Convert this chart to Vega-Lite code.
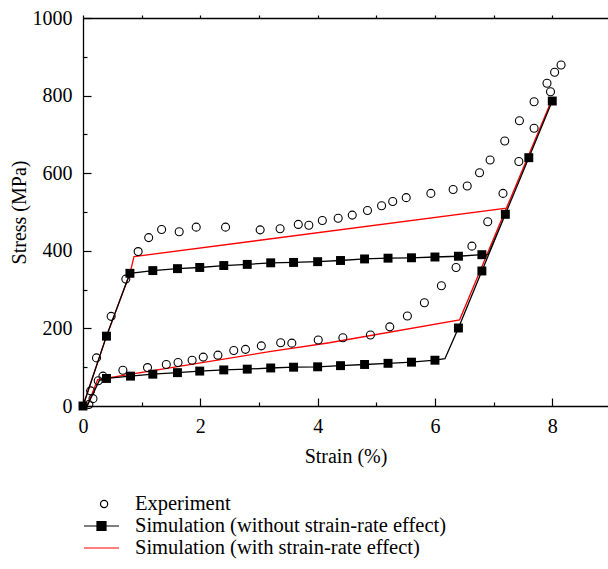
{
  "$schema": "https://vega.github.io/schema/vega-lite/v6.json",
  "width": 525,
  "height": 388,
  "autosize": {"type": "none"},
  "padding": {"left": 83, "top": 18, "right": 0, "bottom": 163},
  "background": "white",
  "config": {
    "view": {"stroke": null},
    "font": "Liberation Serif",
    "style": {
      "guide-label": {"font": "Liberation Serif", "fontWeight": "normal", "fill": "black"},
      "guide-title": {"font": "Liberation Serif", "fontWeight": "normal", "fill": "black"}
    },
    "axis": {
      "labelFont": "Liberation Serif",
      "titleFont": "Liberation Serif",
      "labelFontSize": 20,
      "titleFontSize": 20,
      "titleFontWeight": 400,
      "labelColor": "black",
      "titleColor": "black",
      "domainColor": "black",
      "tickColor": "black",
      "domainWidth": 1.3,
      "tickWidth": 1.2,
      "grid": false
    }
  },
  "datasets": {
    "sim": [
      {"series": "Simulation (without strain-rate effect)", "ord": 1, "strain": 0.0, "stress": 0, "mark": 1},
      {"series": "Simulation (without strain-rate effect)", "ord": 2, "strain": 0.40, "stress": 180, "mark": 1},
      {"series": "Simulation (without strain-rate effect)", "ord": 3, "strain": 0.80, "stress": 342, "mark": 1},
      {"series": "Simulation (without strain-rate effect)", "ord": 4, "strain": 1.19, "stress": 349, "mark": 1},
      {"series": "Simulation (without strain-rate effect)", "ord": 5, "strain": 1.61, "stress": 354, "mark": 1},
      {"series": "Simulation (without strain-rate effect)", "ord": 6, "strain": 1.99, "stress": 357, "mark": 1},
      {"series": "Simulation (without strain-rate effect)", "ord": 7, "strain": 2.40, "stress": 362, "mark": 1},
      {"series": "Simulation (without strain-rate effect)", "ord": 8, "strain": 2.80, "stress": 365, "mark": 1},
      {"series": "Simulation (without strain-rate effect)", "ord": 9, "strain": 3.20, "stress": 369, "mark": 1},
      {"series": "Simulation (without strain-rate effect)", "ord": 10, "strain": 3.59, "stress": 370, "mark": 1},
      {"series": "Simulation (without strain-rate effect)", "ord": 11, "strain": 4.00, "stress": 372, "mark": 1},
      {"series": "Simulation (without strain-rate effect)", "ord": 12, "strain": 4.39, "stress": 375, "mark": 1},
      {"series": "Simulation (without strain-rate effect)", "ord": 13, "strain": 4.80, "stress": 379, "mark": 1},
      {"series": "Simulation (without strain-rate effect)", "ord": 14, "strain": 5.20, "stress": 381, "mark": 1},
      {"series": "Simulation (without strain-rate effect)", "ord": 15, "strain": 5.60, "stress": 382, "mark": 1},
      {"series": "Simulation (without strain-rate effect)", "ord": 16, "strain": 6.00, "stress": 384, "mark": 1},
      {"series": "Simulation (without strain-rate effect)", "ord": 17, "strain": 6.40, "stress": 386, "mark": 1},
      {"series": "Simulation (without strain-rate effect)", "ord": 18, "strain": 6.80, "stress": 390, "mark": 1},
      {"series": "Simulation (without strain-rate effect)", "ord": 19, "strain": 6.91, "stress": 391, "mark": 0},
      {"series": "Simulation (without strain-rate effect)", "ord": 20, "strain": 7.20, "stress": 494, "mark": 1},
      {"series": "Simulation (without strain-rate effect)", "ord": 21, "strain": 7.60, "stress": 640, "mark": 1},
      {"series": "Simulation (without strain-rate effect)", "ord": 22, "strain": 8.00, "stress": 786, "mark": 1},
      {"series": "Simulation (without strain-rate effect)", "ord": 23, "strain": 6.80, "stress": 348, "mark": 1},
      {"series": "Simulation (without strain-rate effect)", "ord": 24, "strain": 6.40, "stress": 201, "mark": 1},
      {"series": "Simulation (without strain-rate effect)", "ord": 25, "strain": 6.17, "stress": 122, "mark": 0},
      {"series": "Simulation (without strain-rate effect)", "ord": 26, "strain": 6.00, "stress": 118, "mark": 1},
      {"series": "Simulation (without strain-rate effect)", "ord": 27, "strain": 5.60, "stress": 113, "mark": 1},
      {"series": "Simulation (without strain-rate effect)", "ord": 28, "strain": 5.20, "stress": 110, "mark": 1},
      {"series": "Simulation (without strain-rate effect)", "ord": 29, "strain": 4.80, "stress": 107, "mark": 1},
      {"series": "Simulation (without strain-rate effect)", "ord": 30, "strain": 4.39, "stress": 104, "mark": 1},
      {"series": "Simulation (without strain-rate effect)", "ord": 31, "strain": 4.00, "stress": 101, "mark": 1},
      {"series": "Simulation (without strain-rate effect)", "ord": 32, "strain": 3.59, "stress": 100, "mark": 1},
      {"series": "Simulation (without strain-rate effect)", "ord": 33, "strain": 3.20, "stress": 98, "mark": 1},
      {"series": "Simulation (without strain-rate effect)", "ord": 34, "strain": 2.80, "stress": 95, "mark": 1},
      {"series": "Simulation (without strain-rate effect)", "ord": 35, "strain": 2.40, "stress": 93, "mark": 1},
      {"series": "Simulation (without strain-rate effect)", "ord": 36, "strain": 1.99, "stress": 90, "mark": 1},
      {"series": "Simulation (without strain-rate effect)", "ord": 37, "strain": 1.61, "stress": 86, "mark": 1},
      {"series": "Simulation (without strain-rate effect)", "ord": 38, "strain": 1.19, "stress": 82, "mark": 1},
      {"series": "Simulation (without strain-rate effect)", "ord": 39, "strain": 0.81, "stress": 77, "mark": 1},
      {"series": "Simulation (without strain-rate effect)", "ord": 40, "strain": 0.40, "stress": 71, "mark": 1},
      {"series": "Simulation (without strain-rate effect)", "ord": 41, "strain": 0.28, "stress": 66, "mark": 0},
      {"series": "Simulation (without strain-rate effect)", "ord": 42, "strain": 0.07, "stress": 0, "mark": 0},
      {"series": "Simulation (with strain-rate effect)", "ord": 1, "strain": 0.0, "stress": 0, "mark": 0},
      {"series": "Simulation (with strain-rate effect)", "ord": 2, "strain": 0.40, "stress": 180, "mark": 0},
      {"series": "Simulation (with strain-rate effect)", "ord": 3, "strain": 0.80, "stress": 342, "mark": 0},
      {"series": "Simulation (with strain-rate effect)", "ord": 4, "strain": 0.87, "stress": 385, "mark": 0},
      {"series": "Simulation (with strain-rate effect)", "ord": 5, "strain": 7.22, "stress": 510, "mark": 0},
      {"series": "Simulation (with strain-rate effect)", "ord": 6, "strain": 7.98, "stress": 785, "mark": 0},
      {"series": "Simulation (with strain-rate effect)", "ord": 7, "strain": 6.42, "stress": 222, "mark": 0},
      {"series": "Simulation (with strain-rate effect)", "ord": 8, "strain": 4.20, "stress": 163, "mark": 0},
      {"series": "Simulation (with strain-rate effect)", "ord": 9, "strain": 3.18, "stress": 140, "mark": 0},
      {"series": "Simulation (with strain-rate effect)", "ord": 10, "strain": 0.25, "stress": 68, "mark": 0},
      {"series": "Simulation (with strain-rate effect)", "ord": 11, "strain": 0.07, "stress": 0, "mark": 0}
    ],
    "exp": [
      {"series": "Experiment", "strain": 0.10, "stress": 4},
      {"series": "Experiment", "strain": 0.17, "stress": 19},
      {"series": "Experiment", "strain": 0.13, "stress": 39},
      {"series": "Experiment", "strain": 0.23, "stress": 124},
      {"series": "Experiment", "strain": 0.48, "stress": 231},
      {"series": "Experiment", "strain": 0.73, "stress": 327},
      {"series": "Experiment", "strain": 0.94, "stress": 398},
      {"series": "Experiment", "strain": 1.12, "stress": 434},
      {"series": "Experiment", "strain": 1.34, "stress": 455},
      {"series": "Experiment", "strain": 1.64, "stress": 449},
      {"series": "Experiment", "strain": 1.93, "stress": 461},
      {"series": "Experiment", "strain": 2.43, "stress": 461},
      {"series": "Experiment", "strain": 3.02, "stress": 454},
      {"series": "Experiment", "strain": 3.36, "stress": 457},
      {"series": "Experiment", "strain": 3.67, "stress": 468},
      {"series": "Experiment", "strain": 3.85, "stress": 466},
      {"series": "Experiment", "strain": 4.08, "stress": 478},
      {"series": "Experiment", "strain": 4.35, "stress": 484},
      {"series": "Experiment", "strain": 4.59, "stress": 492},
      {"series": "Experiment", "strain": 4.85, "stress": 504},
      {"series": "Experiment", "strain": 5.09, "stress": 516},
      {"series": "Experiment", "strain": 5.28, "stress": 527},
      {"series": "Experiment", "strain": 5.51, "stress": 537},
      {"series": "Experiment", "strain": 5.93, "stress": 548},
      {"series": "Experiment", "strain": 6.31, "stress": 558},
      {"series": "Experiment", "strain": 6.55, "stress": 567},
      {"series": "Experiment", "strain": 6.76, "stress": 601},
      {"series": "Experiment", "strain": 6.94, "stress": 634},
      {"series": "Experiment", "strain": 7.19, "stress": 683},
      {"series": "Experiment", "strain": 7.44, "stress": 735},
      {"series": "Experiment", "strain": 7.69, "stress": 784},
      {"series": "Experiment", "strain": 7.91, "stress": 832},
      {"series": "Experiment", "strain": 8.04, "stress": 860},
      {"series": "Experiment", "strain": 8.15, "stress": 879},
      {"series": "Experiment", "strain": 7.97, "stress": 810},
      {"series": "Experiment", "strain": 7.69, "stress": 716},
      {"series": "Experiment", "strain": 7.43, "stress": 630},
      {"series": "Experiment", "strain": 7.16, "stress": 548},
      {"series": "Experiment", "strain": 6.90, "stress": 475},
      {"series": "Experiment", "strain": 6.63, "stress": 412},
      {"series": "Experiment", "strain": 6.36, "stress": 357},
      {"series": "Experiment", "strain": 6.11, "stress": 310},
      {"series": "Experiment", "strain": 5.82, "stress": 266},
      {"series": "Experiment", "strain": 5.53, "stress": 232},
      {"series": "Experiment", "strain": 5.23, "stress": 204},
      {"series": "Experiment", "strain": 4.90, "stress": 183},
      {"series": "Experiment", "strain": 4.43, "stress": 176},
      {"series": "Experiment", "strain": 4.01, "stress": 170},
      {"series": "Experiment", "strain": 3.56, "stress": 162},
      {"series": "Experiment", "strain": 3.37, "stress": 163},
      {"series": "Experiment", "strain": 3.04, "stress": 155},
      {"series": "Experiment", "strain": 2.77, "stress": 146},
      {"series": "Experiment", "strain": 2.57, "stress": 143},
      {"series": "Experiment", "strain": 2.30, "stress": 131},
      {"series": "Experiment", "strain": 2.05, "stress": 126},
      {"series": "Experiment", "strain": 1.86, "stress": 118},
      {"series": "Experiment", "strain": 1.62, "stress": 112},
      {"series": "Experiment", "strain": 1.42, "stress": 107},
      {"series": "Experiment", "strain": 1.10, "stress": 99},
      {"series": "Experiment", "strain": 0.68, "stress": 92},
      {"series": "Experiment", "strain": 0.34, "stress": 77},
      {"series": "Experiment", "strain": 0.26, "stress": 65}
    ]
  },
  "resolve": {"axis": {"x": "independent", "y": "independent"}},
  "layer": [
    {
      "data": {"name": "sim"},
      "transform": [{"filter": "datum.series === 'Simulation (with strain-rate effect)'"}],
      "mark": {"type": "line", "strokeWidth": 1.3},
      "encoding": {
        "x": {"field": "strain", "type": "quantitative", "scale": {"domain": [0, 8.95], "nice": false, "zero": false},
          "axis": {"orient": "bottom", "values": [0, 2, 4, 6, 8], "format": "d", "title": "Strain (%)", "tickSize": -8, "labelPadding": 18, "titlePadding": 10, "labelFlush": false,
            "labelFont": "Liberation Serif", "titleFont": "Liberation Serif", "labelFontSize": 20, "titleFontSize": 20, "titleFontWeight": 400, "labelColor": "black", "titleColor": "black"}},
        "y": {"field": "stress", "type": "quantitative", "scale": {"domain": [0, 1000], "nice": false},
          "axis": {"orient": "left", "values": [0, 200, 400, 600, 800, 1000], "format": "d", "title": "Stress (MPa)", "tickSize": -8, "labelPadding": 19, "titlePadding": 3, "labelFlush": false,
            "labelFont": "Liberation Serif", "titleFont": "Liberation Serif", "labelFontSize": 20, "titleFontSize": 20, "titleFontWeight": 400, "labelColor": "black", "titleColor": "black"}},
        "order": {"field": "ord", "type": "quantitative"},
        "color": {"field": "series", "type": "nominal",
          "scale": {"domain": ["Experiment", "Simulation (without strain-rate effect)", "Simulation (with strain-rate effect)"], "range": ["black", "black", "red"]},
          "legend": {
            "orient": "none", "legendX": 7.5, "legendY": 475, "title": null, "padding": 0,
            "labelFont": "Liberation Serif", "labelFontSize": 20.5, "labelColor": "black", "labelOffset": 22.5, "labelLimit": 600,
            "symbolSize": 400, "rowPadding": 0,
            "encode": {"symbols": {"update": {
              "shape": [
                {"test": "datum.value === 'Experiment'", "value": "M0.62,0A0.36,0.36,0,1,1,-0.1,0A0.36,0.36,0,1,1,0.62,0Z"},
                {"test": "datum.value === 'Simulation (without strain-rate effect)'", "value": "M-1.75,0H1.75M-0.45,-0.45H0.45V0.45H-0.45Z"},
                {"value": "M-1.75,0H1.75"}
              ],
              "fill": [
                {"test": "datum.value === 'Simulation (without strain-rate effect)'", "value": "black"},
                {"value": "white"}
              ],
              "fillOpacity": [
                {"test": "datum.value === 'Simulation (without strain-rate effect)'", "value": 1},
                {"value": 0}
              ],
              "stroke": [
                {"test": "datum.value === 'Simulation (with strain-rate effect)'", "value": "red"},
                {"value": "black"}
              ],
              "strokeWidth": {"value": 1.2},
              "size": {"value": 400},
              "opacity": {"value": 1}
            }}}
          }}
      }
    },
    {
      "data": {"name": "sim"},
      "transform": [{"filter": "datum.series === 'Simulation (without strain-rate effect)'"}],
      "mark": {"type": "line", "strokeWidth": 1.3},
      "encoding": {
        "x": {"field": "strain", "type": "quantitative",
          "axis": {"orient": "bottom", "values": [1, 3, 5, 7], "labels": false, "title": null, "domain": false, "tickSize": -4}},
        "y": {"field": "stress", "type": "quantitative",
          "axis": {"orient": "left", "values": [100, 300, 500, 700, 900], "labels": false, "title": null, "domain": false, "tickSize": -4}},
        "order": {"field": "ord", "type": "quantitative"},
        "color": {"field": "series", "type": "nominal"}
      }
    },
    {
      "data": {"name": "sim"},
      "transform": [{"filter": "datum.series === 'Simulation (without strain-rate effect)' && datum.mark === 1"}],
      "mark": {"type": "point", "shape": "square", "filled": true, "size": 80, "opacity": 1},
      "encoding": {
        "x": {"field": "strain", "type": "quantitative",
          "axis": {"orient": "top", "values": [0, 1, 2, 3, 4, 5, 6, 7, 8], "labels": false, "title": null, "tickSize": 3}},
        "y": {"field": "stress", "type": "quantitative", "axis": null},
        "color": {"field": "series", "type": "nominal"}
      }
    },
    {
      "data": {"name": "exp"},
      "mark": {"type": "point", "shape": "circle", "filled": false, "size": 64, "strokeWidth": 1.1, "opacity": 1},
      "encoding": {
        "x": {"field": "strain", "type": "quantitative", "axis": null},
        "y": {"field": "stress", "type": "quantitative", "axis": null},
        "color": {"field": "series", "type": "nominal"}
      }
    }
  ]
}
